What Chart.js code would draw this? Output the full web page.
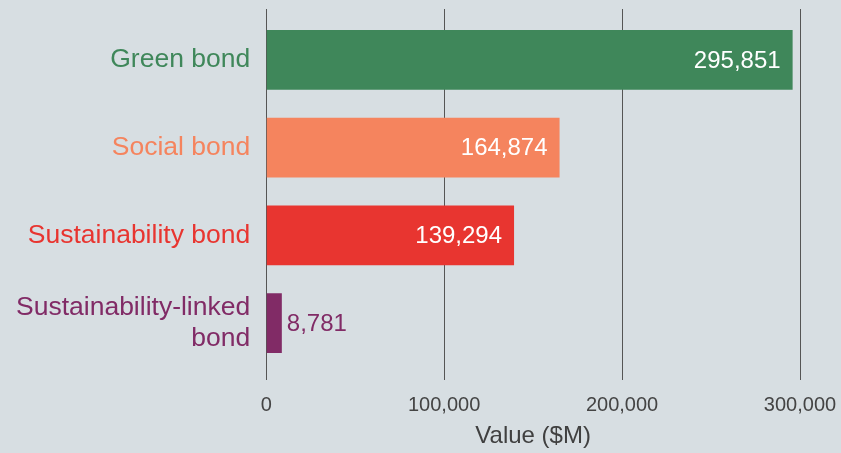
<!DOCTYPE html>
<html>
<head>
<meta charset="utf-8">
<script src="https://cdn.jsdelivr.net/npm/chart.js@4"></script>
<style>
  html, body { margin: 0; padding: 0; background: #d7dee2; }
  #wrap { width: 841px; height: 453px; position: relative; }
</style>
</head>
<body>
<div id="wrap"><canvas id="bonds"></canvas></div>
<script>
var categories = ['Green bond', 'Social bond', 'Sustainability bond', ['Sustainability-linked', 'bond']];
var values = [295851, 164874, 139294, 8781];
var barColors = ['#3f875a', '#f5845e', '#e83530', '#812b66'];
var xTicks = [0, 100000, 200000, 300000];

var FONT = "'Liberation Sans', Arial, sans-serif";
var GRID = '#555555';

// value labels: white inside long bars, coloured outside short ones
var valueLabels = {
  id: 'valueLabels',
  afterDatasetsDraw: function(chart) {
    var ctx = chart.ctx;
    var meta = chart.getDatasetMeta(0);
    ctx.save();
    ctx.font = '24px ' + FONT;
    ctx.textBaseline = 'middle';
    meta.data.forEach(function(bar, i) {
      var p = bar.getProps(['x', 'y', 'base'], true);
      var txt = values[i].toLocaleString('en-US');
      var w = ctx.measureText(txt).width;
      if (p.x - p.base > w + 20) {
        ctx.fillStyle = '#ffffff';
        ctx.textAlign = 'right';
        ctx.fillText(txt, p.x - 12, p.y + 1);
      } else {
        ctx.fillStyle = barColors[i];
        ctx.textAlign = 'left';
        ctx.fillText(txt, p.x + 5, p.y + 1);
      }
    });
    ctx.restore();
  }
};

// gridlines in the original poke a little above the plot area
var gridTop = {
  id: 'gridTop',
  beforeDatasetsDraw: function(chart) {
    var ctx = chart.ctx;
    var xs = chart.scales.x;
    var top = chart.chartArea.top;
    ctx.save();
    ctx.strokeStyle = GRID;
    ctx.lineWidth = 1;
    xTicks.forEach(function(v) {
      var x = Math.round(xs.getPixelForValue(v) - 0.5) + 0.5;
      ctx.beginPath();
      ctx.moveTo(x, top - 7);
      ctx.lineTo(x, top);
      ctx.stroke();
    });
    ctx.restore();
  }
};

var chart = new Chart(document.getElementById('bonds'), {
  type: 'bar',
  data: {
    labels: categories,
    datasets: [{
      label: 'Value ($M)',
      data: values,
      backgroundColor: barColors,
      borderWidth: 0,
      barPercentage: 0.68,
      categoryPercentage: 1
    }]
  },
  options: {
    indexAxis: 'y',
    responsive: true,
    maintainAspectRatio: false,
    animation: false,
    layout: { padding: { top: 16, right: 0, bottom: 0, left: 0 } },
    plugins: {
      legend: { display: false },
      tooltip: { enabled: false }
    },
    scales: {
      x: {
        min: 0,
        max: 300000,
        afterBuildTicks: function(axis) {
          axis.ticks = xTicks.map(function(v) { return { value: v }; });
        },
        afterFit: function(scale) {
          scale.height = 86;
          scale.paddingRight = 41;
        },
        grid: {
          color: GRID,
          lineWidth: 1,
          tickLength: 13,
          drawTicks: true
        },
        border: { display: false },
        ticks: {
          color: '#444444',
          font: { family: FONT, size: 20 },
          padding: 13,
          maxRotation: 0,
          callback: function(v) { return Number(v).toLocaleString('en-US'); }
        },
        title: {
          display: true,
          text: 'Value ($M)',
          color: '#404040',
          font: { family: FONT, size: 24 },
          padding: { top: 0, bottom: 2 }
        }
      },
      y: {
        grid: { display: false, drawTicks: false },
        border: { display: false },
        afterFit: function(scale) {
          scale.paddingTop = 0;
          scale.paddingBottom = 0;
        },
        ticks: {
          color: function(c) { return barColors[c.index]; },
          font: { family: FONT, size: 26.5, lineHeight: 1.15 },
          padding: 16
        }
      }
    }
  },
  plugins: [valueLabels, gridTop]
});
</script>
</body>
</html>
